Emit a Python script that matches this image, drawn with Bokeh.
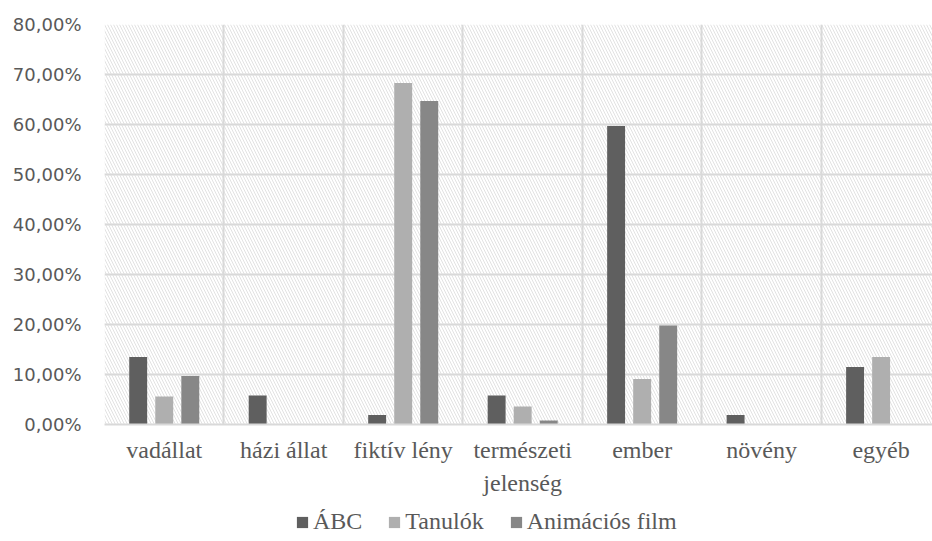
from bokeh.plotting import figure
from bokeh.layouts import column
from bokeh.models import (ColumnDataSource, Range1d, FixedTicker, BoxAnnotation,
                          Legend, LegendItem)
from bokeh.embed import file_html
from bokeh.resources import INLINE

# Categories and series (share of answers, percent)
categories = ["vadállat", "házi állat", "fiktív lény", "természeti\njelenség",
              "ember", "növény", "egyéb"]
abc = [13.5, 5.8, 1.9, 5.8, 59.7, 1.9, 11.5]
tanulok = [5.6, 0.0, 68.3, 3.6, 9.1, 0.0, 13.5]
animacios_film = [9.7, 0.0, 64.7, 0.8, 19.8, 0.0, 0.0]
series_names = ["ÁBC", "Tanulók", "Animációs film"]
series_colors = ["#5f5f5f", "#afafaf", "#878787"]
y_ticks = [0, 10, 20, 30, 40, 50, 60, 70, 80]
y_tick_labels = ["0,00%", "10,00%", "20,00%", "30,00%", "40,00%",
                 "50,00%", "60,00%", "70,00%", "80,00%"]

TEXT = "#595959"
GRID = "#d9d9d9"

n = len(categories)
centers = [i + 0.5 for i in range(n)]
bar_w = 0.15
step = 0.218

p = figure(width=932, height=500, output_backend="svg", toolbar_location=None,
           x_range=Range1d(0, 6.93), y_range=Range1d(0, 80),
           min_border_left=104, min_border_right=0, min_border_top=24,
           min_border_bottom=76)
p.outline_line_color = None
p.background_fill_color = "white"

# hatched plot-area background
p.add_layout(BoxAnnotation(fill_alpha=0, line_color=None,
                           hatch_pattern="left_diagonal_line", hatch_color="#e2e2e2",
                           hatch_scale=6, hatch_weight=1.0, level="image"))

sources = []
for k, (vals, color) in enumerate(zip([abc, tanulok, animacios_film], series_colors)):
    src = ColumnDataSource(dict(x=[c + (k - 1) * step for c in centers], top=vals))
    p.vbar(x="x", top="top", bottom=0, width=bar_w, source=src,
           fill_color=color, line_color=None)
    sources.append(src)

# axes
p.xaxis.ticker = FixedTicker(ticks=centers)
p.xaxis.major_label_overrides = {c: lab for c, lab in zip(centers, categories)}
p.xaxis.major_tick_line_color = None
p.xaxis.minor_tick_line_color = None
p.xaxis.axis_line_color = GRID
p.xaxis.axis_line_width = 2
p.xaxis.major_label_text_font = "Liberation Serif"
p.xaxis.major_label_text_font_size = "24px"
p.xaxis.major_label_text_color = TEXT
p.xaxis.major_label_text_line_height = 1.3
p.xaxis.major_label_standoff = 6

p.yaxis.ticker = FixedTicker(ticks=y_ticks)
p.yaxis.major_label_overrides = {t: lab for t, lab in zip(y_ticks, y_tick_labels)}
p.yaxis.major_tick_line_color = None
p.yaxis.minor_tick_line_color = None
p.yaxis.axis_line_color = None
p.yaxis.major_label_text_font = "DejaVu Sans"
p.yaxis.major_label_text_font_size = "18px"
p.yaxis.major_label_text_color = TEXT
p.yaxis.major_label_standoff = 17

# grid
p.xgrid.ticker = FixedTicker(ticks=list(range(n + 1)))
p.xgrid.grid_line_color = GRID
p.xgrid.grid_line_width = 2
p.ygrid.grid_line_color = GRID
p.ygrid.grid_line_width = 2

# legend strip below the chart; hidden copies of the series supply the swatches
lf = figure(width=932, height=41, output_backend="svg", toolbar_location=None,
            x_range=Range1d(0, 1), y_range=Range1d(0, 1), min_border=0,
            x_axis_location=None, y_axis_location=None)
lf.outline_line_color = None
lf.grid.visible = False
swatches = [lf.vbar(x="x", top="top", width=bar_w, source=src, fill_color=c,
                    line_color=None, visible=False)
            for src, c in zip(sources, series_colors)]
legend = Legend(items=[LegendItem(label=nm, renderers=[r])
                       for nm, r in zip(series_names, swatches)],
                orientation="horizontal", location=(191, 6),
                label_text_font="Liberation Serif", label_text_font_size="24px",
                label_text_color=TEXT, glyph_width=14, glyph_height=14,
                label_standoff=4, spacing=25, padding=0, margin=0,
                border_line_color=None, background_fill_alpha=0)
lf.add_layout(legend)

open("out.html", "w").write(file_html(column(p, lf, spacing=0), INLINE))
